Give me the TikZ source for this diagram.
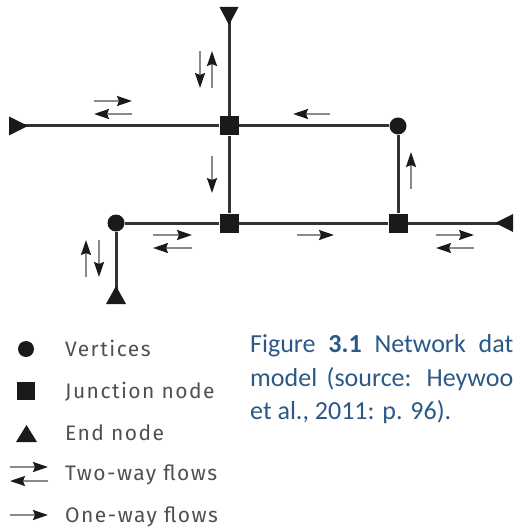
\documentclass[tikz,border=0pt]{standalone}
\usepackage{fontspec}
\setmainfont{Carlito}
\newfontfamily\legfont{Fira Sans}[LetterSpace=7]
\usetikzlibrary{arrows.meta,backgrounds}
\definecolor{netc}{HTML}{333333}
\definecolor{flowc}{HTML}{8A8A8A}
\definecolor{capc}{HTML}{2B5987}
\definecolor{legc}{HTML}{505050}
\definecolor{symc}{HTML}{1A1A1A}
\begin{document}
\begin{tikzpicture}[x=1pt,y=-1pt,
  net/.style={line width=3pt,draw=netc},
  flow/.style={line width=1.8pt,draw=flowc,-{Stealth[length=15pt,width=10pt,inset=2pt,color=symc]}},
  vtx/.style={circle,fill=symc,inner sep=0pt,minimum size=17pt},
  junc/.style={rectangle,fill=symc,inner sep=0pt,minimum size=19pt},
  endtri/.style={fill=symc},
  legtext/.style={anchor=base west,text=legc,font=\legfont\fontsize{21}{25}\selectfont,inner sep=0pt},
  captext/.style={anchor=base west,text=capc,font=\fontsize{26}{31}\selectfont,inner sep=0pt}]
\useasboundingbox (0,0) rectangle (513,529);
\clip (0,0) rectangle (513,529);
% nodes
\node[junc] (A) at (229,126) {};
\node[junc] (B) at (229,223) {};
\node[junc] (C) at (398,223) {};
\node[vtx] (V1) at (398,126) {};
\node[vtx] (V2) at (116,223) {};
% end nodes
\coordinate (topEnd) at (229,14);
\coordinate (leftEnd) at (18,126);
\coordinate (rightEnd) at (505,223);
\coordinate (botEnd) at (116,296);
\fill[endtri] (219.5,7) -- (238.5,7) -- (229,25) -- cycle;
\fill[endtri] (9,116.5) -- (9,135.5) -- (28,126) -- cycle;
\fill[endtri] (514,213.5) -- (514,232.5) -- (495,223) -- cycle;
\fill[endtri] (106,304) -- (126,304) -- (116,286) -- cycle;
% connectors
\begin{scope}[on background layer]
\draw[net] (topEnd) -- (A);
\draw[net] (leftEnd) -- (A);
\draw[net] (A) -- (V1);
\draw[net] (A) -- (B);
\draw[net] (V1) -- (C);
\draw[net] (V2) -- (B);
\draw[net] (B) -- (C);
\draw[net] (C) -- (rightEnd);
\draw[net] (V2) -- (botEnd);
\end{scope}
% flows
\draw[flow] (94,101) -- (132,101);
\draw[flow] (132,114) -- (94,114);
\draw[flow] (200,51) -- (200,88);
\draw[flow] (212,88) -- (212,51);
\draw[flow] (330,114) -- (293,114);
\draw[flow] (212,156) -- (212,193);
\draw[flow] (411,189) -- (411,152);
\draw[flow] (153,235) -- (192,235);
\draw[flow] (192,248) -- (153,248);
\draw[flow] (297,235) -- (334,235);
\draw[flow] (436,235) -- (474,235);
\draw[flow] (474,248) -- (436,248);
\draw[flow] (86,277) -- (86,240);
\draw[flow] (99,240) -- (99,277);
% legend
\node[vtx,minimum size=16pt] (LV) at (26,349) {};
\node[junc,minimum size=18pt] (LJ) at (26,391) {};
\fill[endtri] (16,442) -- (37,442) -- (26.5,425) -- cycle;
\draw[flow] (10,467) -- (48,467);
\draw[flow] (48,481) -- (10,481);
\draw[flow] (10,515) -- (48,515);
\node[legtext] (t1) at (65,356) {Vertices};
\node[legtext] (t2) at (65,398) {Junction node};
\node[legtext] (t3) at (65,440) {End node};
\node[legtext] (t4) at (65,480) {Two-way flows};
\node[legtext] (t5) at (65,522) {One-way flows};
% caption
\node[captext] (c1) at (250,352) {\makebox[263pt][s]{Figure \textbf{3.1} Network dat}};
\node[captext] (c2) at (250,386) {\makebox[263pt][s]{model (source: Heywoo}};
\node[captext] (c3) at (250,419) {et al., 2011: p. 96).};
\end{tikzpicture}
\end{document}
